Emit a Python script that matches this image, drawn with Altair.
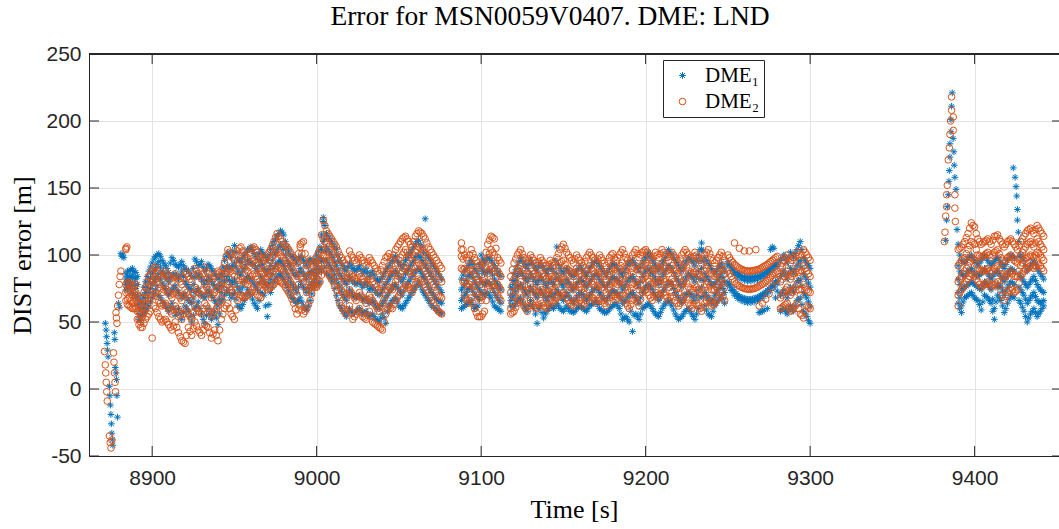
import altair as alt
import pandas as pd

TITLE = "Error for MSN0059V0407. DME: LND"
SERIES = ["DME\u2081", "DME\u2082"]
COLORS = ["#0072BD", "#D95319"]
X_TICKS = [8900, 9000, 9100, 9200, 9300, 9400]
Y_TICKS = [-50, 0, 50, 100, 150, 200, 250]
X_DOMAIN = [8861.6, 9451.3]
Y_DOMAIN = [-50, 250]

# ---- DME1 (blue asterisks): individual points of the initial dip ----
DIP_T1 = [8871.5, 8872.0, 8872.3, 8872.6, 8872.9, 8873.2, 8874.0, 8874.3, 8874.6, 8874.9,
          8875.2, 8875.5, 8875.8, 8876.1, 8877.0, 8877.3, 8877.6, 8878.0, 8878.3, 8878.6,
          8878.9, 8879.5, 8880.3, 8881.0, 8881.6, 8882.2, 8882.8]
DIP_V1 = [49, 44, 39, 34, 29, 24, 2, -5, -12, -19, -26, -33, -38, -42, 42, 37, 16, 12, 7, -5,
          -21, 64, 61, 101, 99, 100, 98]
# ---- DME2 (orange circles): individual points of the initial dip ----
DIP_T2 = [8871.0, 8871.5, 8871.8, 8872.1, 8872.4, 8872.7, 8874.0, 8874.5, 8875.0, 8875.5,
          8876.5, 8876.8, 8877.1, 8877.4, 8877.7, 8878.0, 8878.3, 8878.6, 8879.0, 8879.5,
          8880.0, 8880.5, 8881.0, 8884.0, 8884.6]
DIP_V2 = [28, 18, 12, 5, -2, -9, -35, -40, -44, -38, 27, 20, 12, 5, -2, 57, 53, 49, 62, 70,
          78, 84, 88, 104, 106]

# ---- time [s] -> errors [m] at that epoch, first block (even seconds) ----
DME1_A = {
    8884: [86, 82, 78, 74], 8886: [88, 84, 80, 76], 8888: [90, 85, 79, 72], 8890: [87, 82, 75, 68],
    8892: [60, 56, 52, 66], 8894: [70, 64, 58, 54], 8896: [80, 72, 64, 58], 8898: [88, 80, 72, 62],
    8900: [94, 86, 78, 68], 8902: [99, 90, 82, 74], 8904: [101, 95, 86, 70], 8906: [96, 88, 79, 66],
    8908: [92, 84, 75, 62], 8910: [87, 80, 70, 58], 8912: [98, 84, 74, 64], 8914: [93, 86, 77, 55],
    8916: [91, 82, 72, 60], 8918: [95, 88, 68, 52], 8920: [90, 80, 71, 62], 8922: [88, 76, 66, 58],
    8924: [84, 74, 64, 50], 8926: [97, 83, 72, 60], 8928: [92, 86, 75, 65], 8930: [95, 82, 70, 56],
    8932: [88, 78, 68, 49], 8934: [93, 84, 74, 60], 8936: [90, 80, 70, 52], 8938: [86, 77, 66, 58],
    8940: [82, 74, 62, 48], 8942: [86, 80, 72, 65], 8944: [96, 88, 80, 70], 8946: [102, 92, 84, 74],
    8948: [98, 90, 78, 68], 8950: [107, 94, 82, 72], 8952: [97, 88, 76, 62], 8954: [95, 85, 72, 60],
    8956: [100, 90, 80, 66], 8958: [104, 96, 84, 74], 8960: [106, 94, 82, 70], 8962: [101, 92, 78, 64],
    8964: [97, 88, 74, 60], 8966: [104, 96, 84, 72], 8968: [100, 90, 80, 70], 8970: [96, 86, 76, 54],
    8972: [104, 92, 82, 72], 8974: [110, 100, 90, 80], 8976: [114, 104, 94, 84], 8978: [118, 108, 96, 86],
    8980: [115, 104, 92, 82], 8982: [106, 96, 86, 76], 8984: [100, 92, 80, 70], 8986: [98, 86, 76, 67],
    8988: [94, 84, 72, 64], 8990: [99, 90, 80, 68], 8992: [96, 86, 76, 62], 8994: [92, 82, 72, 59],
    8996: [97, 88, 78, 66], 8998: [94, 86, 80, 76], 9000: [100, 92, 84, 78], 9002: [106, 98, 90, 80],
    9004: [128, 125, 110, 96], 9006: [116, 106, 96, 86], 9008: [112, 102, 92, 84], 9010: [108, 98, 88, 80],
    9012: [104, 92, 82, 70], 9014: [96, 86, 76, 62], 9016: [92, 82, 70, 58], 9018: [88, 78, 66, 54],
    9020: [94, 84, 74, 60], 9022: [90, 80, 70, 56], 9024: [88, 78, 68, 58], 9026: [92, 80, 70, 60],
    9028: [86, 76, 66, 56], 9030: [90, 80, 68, 58], 9032: [84, 74, 64, 54], 9034: [88, 76, 66, 56],
    9036: [82, 72, 62, 52], 9038: [80, 70, 60, 50], 9040: [84, 74, 64, 56], 9042: [88, 78, 68, 49],
    9044: [92, 82, 72, 62], 9046: [96, 86, 76, 66], 9048: [99, 88, 78, 68], 9050: [94, 84, 74, 62],
    9052: [90, 80, 70, 60], 9054: [96, 86, 76, 64], 9056: [100, 90, 80, 68], 9058: [104, 94, 84, 72],
    9060: [108, 98, 88, 76], 9062: [111, 100, 90, 80], 9064: [106, 96, 86, 74], 9066: [127, 92, 82, 70],
    9068: [98, 88, 76, 66], 9070: [94, 84, 72, 62], 9072: [90, 80, 68, 60], 9074: [86, 76, 66, 58],
    9076: [82, 72, 64, 56],
}
DME2_A = {
    8884: [105, 78, 72, 66], 8886: [80, 74, 68, 62], 8888: [76, 70, 64, 60], 8890: [78, 72, 66, 60],
    8892: [58, 52, 48, 64], 8894: [68, 60, 54, 46], 8896: [76, 68, 60, 52], 8898: [84, 76, 66, 56],
    8900: [88, 80, 70, 38], 8902: [91, 82, 72, 60], 8904: [86, 78, 66, 54], 8906: [82, 72, 62, 50],
    8908: [88, 76, 64, 52], 8910: [84, 72, 60, 48], 8912: [80, 68, 56, 44], 8914: [86, 74, 62, 50],
    8916: [82, 70, 58, 42], 8918: [78, 66, 52, 36], 8920: [88, 74, 60, 34], 8922: [84, 70, 56, 46],
    8924: [80, 66, 52, 40], 8926: [90, 76, 62, 50], 8928: [86, 72, 58, 44], 8930: [82, 70, 56, 40],
    8932: [91, 78, 64, 48], 8934: [86, 74, 60, 46], 8936: [80, 68, 54, 38], 8938: [84, 72, 58, 44],
    8940: [88, 76, 62, 36], 8942: [86, 78, 68, 52], 8944: [94, 84, 74, 60], 8946: [104, 90, 78, 64],
    8948: [100, 88, 74, 56], 8950: [96, 84, 70, 52], 8952: [103, 92, 78, 66], 8954: [106, 96, 84, 70],
    8956: [100, 90, 80, 68], 8958: [98, 88, 78, 70], 8960: [104, 94, 84, 72], 8962: [106, 96, 86, 76],
    8964: [102, 92, 82, 70], 8966: [98, 88, 78, 68], 8968: [96, 86, 80, 78], 8970: [100, 92, 84, 74],
    8972: [104, 96, 86, 76], 8974: [110, 100, 88, 78], 8976: [116, 104, 92, 82], 8978: [112, 100, 90, 80],
    8980: [108, 98, 88, 78], 8982: [106, 94, 84, 74], 8984: [102, 92, 80, 70], 8986: [98, 88, 76, 64],
    8988: [94, 84, 70, 56], 8990: [108, 106, 86, 62], 8992: [110, 96, 80, 56], 8994: [92, 82, 72, 60],
    8996: [96, 86, 76, 66], 8998: [92, 84, 78, 76], 9000: [98, 90, 82, 76], 9002: [104, 96, 88, 80],
    9004: [126, 112, 100, 90], 9006: [118, 108, 98, 88], 9008: [114, 104, 94, 84], 9010: [110, 100, 90, 80],
    9012: [106, 96, 84, 74], 9014: [100, 88, 76, 64], 9016: [96, 84, 72, 60], 9018: [92, 80, 68, 56],
    9020: [103, 86, 74, 62], 9022: [98, 84, 70, 52], 9024: [94, 80, 66, 56], 9026: [100, 86, 72, 60],
    9028: [96, 82, 68, 54], 9030: [92, 78, 64, 52], 9032: [98, 84, 70, 58], 9034: [94, 80, 66, 50],
    9036: [90, 76, 62, 48], 9038: [86, 72, 58, 46], 9040: [92, 78, 64, 44], 9042: [98, 84, 70, 56],
    9044: [101, 90, 76, 62], 9046: [96, 86, 74, 60], 9048: [104, 92, 80, 66], 9050: [108, 96, 84, 70],
    9052: [112, 100, 88, 74], 9054: [114, 104, 92, 78], 9056: [110, 100, 88, 76], 9058: [106, 96, 84, 72],
    9060: [114, 102, 90, 78], 9062: [118, 106, 94, 82], 9064: [116, 104, 92, 80], 9066: [112, 100, 88, 76],
    9068: [106, 96, 84, 72], 9070: [102, 92, 80, 66], 9072: [98, 88, 76, 62], 9074: [94, 84, 70, 58],
    9076: [90, 80, 68, 56],
}
# ---- first block, odd seconds ----
DME1_A_ODD = {
    8885: [88, 84, 80, 76], 8887: [89, 83, 77, 73], 8889: [88, 83, 77, 70], 8891: [84, 78, 70, 63],
    8893: [66, 60, 55, 51], 8895: [76, 68, 61, 56], 8897: [84, 76, 68, 60], 8899: [91, 83, 75, 65],
    8901: [97, 88, 80, 71], 8903: [100, 93, 84, 77], 8905: [99, 91, 82, 68], 8907: [94, 86, 77, 64],
    8909: [90, 82, 72, 60], 8911: [94, 83, 72, 61], 8913: [96, 85, 76, 60], 8915: [92, 84, 74, 57],
    8917: [93, 85, 70, 56], 8919: [92, 84, 70, 57], 8921: [89, 78, 68, 60], 8923: [86, 75, 65, 54],
    8925: [90, 78, 68, 55], 8927: [95, 85, 73, 62], 8929: [93, 84, 72, 60], 8931: [91, 80, 69, 52],
    8933: [90, 81, 71, 55], 8935: [92, 82, 72, 56], 8937: [88, 78, 68, 55], 8939: [84, 75, 64, 53],
    8941: [84, 77, 67, 56], 8943: [91, 84, 76, 67], 8945: [99, 90, 82, 72], 8947: [100, 91, 81, 71],
    8949: [103, 92, 80, 70], 8951: [102, 91, 79, 67], 8953: [96, 86, 74, 61], 8955: [98, 88, 76, 63],
    8957: [102, 93, 82, 70], 8959: [105, 95, 83, 72], 8961: [104, 93, 80, 67], 8963: [99, 90, 76, 62],
    8965: [101, 92, 79, 66], 8967: [102, 93, 82, 71], 8969: [98, 88, 78, 62], 8971: [100, 89, 79, 63],
    8973: [107, 96, 86, 76], 8975: [112, 102, 92, 82], 8977: [116, 106, 95, 85], 8979: [117, 106, 94, 84],
    8981: [110, 100, 89, 79], 8983: [103, 94, 83, 73], 8985: [99, 89, 78, 68], 8987: [96, 85, 74, 65],
    8989: [97, 87, 76, 66], 8991: [98, 88, 78, 65], 8993: [94, 84, 74, 60], 8995: [95, 85, 75, 62],
    8997: [96, 87, 79, 71], 8999: [97, 89, 82, 77], 9001: [103, 95, 87, 79], 9003: [115, 104, 95, 88],
    9005: [122, 112, 103, 91], 9007: [114, 104, 94, 85], 9009: [110, 100, 90, 82], 9011: [106, 95, 85, 75],
    9013: [100, 89, 79, 66], 9015: [94, 84, 73, 60], 9017: [90, 80, 68, 56], 9019: [91, 81, 70, 57],
    9021: [92, 82, 72, 58], 9023: [89, 79, 69, 57], 9025: [90, 79, 69, 59], 9027: [89, 78, 68, 58],
    9029: [88, 78, 67, 57], 9031: [87, 77, 66, 56], 9033: [86, 75, 65, 55], 9035: [85, 74, 64, 54],
    9037: [81, 71, 61, 51], 9039: [82, 72, 62, 53], 9041: [86, 76, 66, 53], 9043: [90, 80, 70, 58],
    9045: [94, 84, 74, 64], 9047: [98, 87, 77, 67], 9049: [96, 86, 76, 65], 9051: [92, 82, 72, 61],
    9053: [93, 83, 73, 62], 9055: [98, 88, 78, 66], 9057: [102, 92, 82, 70], 9059: [106, 96, 86, 74],
    9061: [110, 99, 89, 78], 9063: [108, 98, 88, 77], 9065: [102, 94, 84, 72], 9067: [100, 90, 79, 68],
    9069: [96, 86, 74, 64], 9071: [92, 82, 70, 61], 9073: [88, 78, 67, 59], 9075: [84, 74, 65, 57],
}
DME2_A_ODD = {
    8885: [79, 73, 67, 63], 8887: [78, 72, 66, 61], 8889: [77, 71, 65, 60], 8891: [70, 64, 58, 52],
    8893: [63, 56, 50, 46], 8895: [72, 64, 57, 49], 8897: [80, 72, 63, 54], 8899: [86, 78, 68, 58],
    8901: [90, 81, 71, 62], 8903: [88, 80, 69, 57], 8905: [84, 75, 64, 52], 8907: [85, 74, 63, 51],
    8909: [86, 74, 62, 50], 8911: [82, 70, 58, 46], 8913: [83, 71, 59, 47], 8915: [84, 72, 60, 46],
    8917: [80, 68, 55, 39], 8919: [83, 70, 56, 35], 8921: [86, 72, 58, 40], 8923: [82, 68, 54, 43],
    8925: [85, 71, 57, 45], 8927: [88, 74, 60, 47], 8929: [84, 71, 57, 42], 8931: [86, 74, 60, 44],
    8933: [88, 76, 62, 47], 8935: [83, 71, 57, 42], 8937: [82, 70, 56, 41], 8939: [86, 74, 60, 40],
    8941: [87, 77, 65, 44], 8943: [90, 81, 71, 56], 8945: [99, 87, 76, 62], 8947: [102, 89, 76, 60],
    8949: [98, 86, 72, 54], 8951: [100, 88, 74, 59], 8953: [105, 94, 81, 68], 8955: [103, 93, 82, 69],
    8957: [99, 89, 79, 69], 8959: [101, 91, 81, 71], 8961: [105, 95, 85, 74], 8963: [104, 94, 84, 73],
    8965: [100, 90, 80, 69], 8967: [97, 87, 79, 73], 8969: [98, 89, 82, 76], 8971: [102, 94, 85, 75],
    8973: [107, 98, 87, 77], 8975: [113, 102, 90, 80], 8977: [114, 102, 91, 81], 8979: [110, 99, 89, 79],
    8981: [107, 96, 86, 76], 8983: [104, 93, 82, 72], 8985: [100, 90, 78, 67], 8987: [96, 86, 73, 60],
    8989: [101, 95, 78, 59], 8991: [109, 101, 83, 59], 8993: [101, 89, 76, 58], 8995: [94, 84, 74, 63],
    8997: [94, 85, 77, 71], 8999: [95, 87, 80, 76], 9001: [101, 93, 85, 78], 9003: [115, 104, 94, 85],
    9005: [122, 110, 99, 89], 9007: [116, 106, 96, 86], 9009: [112, 102, 92, 82], 9011: [108, 98, 87, 77],
    9013: [103, 92, 80, 69], 9015: [98, 86, 74, 62], 9017: [94, 82, 70, 58], 9019: [97, 83, 71, 59],
    9021: [100, 85, 72, 57], 9023: [96, 82, 68, 54], 9025: [97, 83, 69, 58], 9027: [98, 84, 70, 57],
    9029: [94, 80, 66, 53], 9031: [95, 81, 67, 55], 9033: [96, 82, 68, 54], 9035: [92, 78, 64, 49],
    9037: [88, 74, 60, 47], 9039: [89, 75, 61, 45], 9041: [95, 81, 67, 50], 9043: [99, 87, 73, 59],
    9045: [98, 88, 75, 61], 9047: [100, 89, 77, 63], 9049: [106, 94, 82, 68], 9051: [110, 98, 86, 72],
    9053: [113, 102, 90, 76], 9055: [112, 102, 90, 77], 9057: [108, 98, 86, 74], 9059: [110, 99, 87, 75],
    9061: [116, 104, 92, 80], 9063: [117, 105, 93, 81], 9065: [114, 102, 90, 78], 9067: [109, 98, 86, 74],
    9069: [104, 94, 82, 69], 9071: [100, 90, 78, 64], 9073: [96, 86, 73, 60], 9075: [92, 82, 69, 57],
}

# ---- second block (even seconds) ----
DME1_B = {
    9088: [82, 74, 66, 60], 9090: [88, 78, 70, 62], 9092: [92, 84, 74, 64], 9094: [96, 86, 76, 66],
    9096: [90, 80, 70, 60], 9098: [86, 76, 68, 62], 9100: [100, 90, 80, 72], 9102: [94, 86, 78, 70],
    9104: [98, 88, 80, 72], 9106: [96, 88, 78, 68], 9108: [92, 82, 72, 62], 9110: [88, 78, 68, 60],
    9112: [84, 74, 64, 58],
    9118: [76, 70, 66, 62], 9120: [86, 78, 70, 62], 9122: [92, 84, 76, 66], 9124: [98, 88, 78, 68],
    9126: [94, 84, 74, 62], 9128: [90, 80, 70, 58], 9130: [96, 86, 76, 66], 9132: [92, 82, 72, 60],
    9134: [88, 78, 68, 49], 9136: [94, 84, 74, 62], 9138: [90, 80, 70, 53], 9140: [86, 76, 66, 58],
    9142: [92, 82, 72, 62], 9144: [88, 78, 68, 60], 9146: [106, 86, 74, 64], 9148: [90, 80, 70, 60],
    9150: [86, 76, 66, 58], 9152: [90, 82, 72, 62], 9154: [86, 78, 68, 58], 9156: [84, 74, 64, 57],
    9158: [88, 78, 68, 60], 9160: [92, 82, 72, 62], 9162: [88, 80, 70, 60], 9164: [84, 76, 66, 58],
    9166: [90, 80, 70, 62], 9168: [94, 84, 74, 64], 9170: [96, 86, 76, 66], 9172: [92, 82, 72, 60],
    9174: [88, 78, 68, 58], 9176: [84, 76, 66, 57], 9178: [90, 80, 70, 60], 9180: [94, 84, 74, 62],
    9182: [92, 82, 72, 64], 9184: [88, 80, 70, 60], 9186: [84, 74, 64, 52], 9188: [90, 78, 66, 54],
    9190: [94, 82, 70, 50], 9192: [96, 84, 72, 43], 9194: [92, 80, 68, 56], 9196: [88, 76, 64, 52],
    9198: [94, 84, 72, 60], 9200: [98, 88, 76, 62], 9202: [102, 90, 78, 64], 9204: [96, 86, 74, 60],
    9206: [92, 82, 70, 56], 9208: [88, 78, 66, 54], 9210: [94, 84, 72, 60], 9212: [98, 88, 76, 64],
    9214: [104, 92, 80, 66], 9216: [100, 90, 78, 62], 9218: [96, 84, 72, 56], 9220: [92, 80, 68, 52],
    9222: [88, 76, 64, 54], 9224: [94, 82, 70, 58], 9226: [98, 86, 72, 60], 9228: [96, 84, 70, 56],
    9230: [92, 80, 66, 52], 9232: [100, 88, 74, 60], 9234: [109, 104, 90, 76], 9236: [98, 86, 72, 62],
    9238: [94, 82, 68, 56], 9240: [90, 78, 64, 54], 9242: [86, 78, 70, 62], 9244: [90, 82, 74, 66],
    9246: [94, 86, 78, 70], 9248: [88, 80, 72, 64],
    9282: [96, 84, 70, 58], 9284: [100, 88, 74, 60], 9286: [94, 82, 68, 56], 9288: [102, 90, 76, 62],
    9290: [98, 86, 72, 58], 9292: [104, 92, 80, 66], 9294: [110, 96, 82, 68], 9296: [98, 86, 72, 58],
    9298: [94, 82, 68, 54], 9300: [90, 76, 62, 49],
}
DME2_B = {
    9088: [109, 104, 99, 90], 9090: [100, 90, 80, 70], 9092: [96, 86, 76, 64], 9094: [104, 92, 80, 68],
    9096: [98, 86, 74, 60], 9098: [94, 82, 70, 54], 9100: [90, 78, 66, 54], 9102: [96, 84, 72, 58],
    9104: [108, 98, 86, 74], 9106: [114, 104, 92, 80], 9108: [112, 100, 88, 76], 9110: [98, 88, 78, 70],
    9112: [94, 84, 74, 66],
    9118: [84, 72, 60, 56], 9120: [94, 82, 70, 58], 9122: [100, 88, 76, 64], 9124: [104, 92, 80, 68],
    9126: [98, 86, 74, 62], 9128: [94, 82, 70, 58], 9130: [100, 90, 78, 66], 9132: [96, 86, 74, 62],
    9134: [92, 82, 70, 60], 9136: [98, 88, 76, 66], 9138: [94, 84, 72, 62], 9140: [90, 80, 70, 60],
    9142: [96, 86, 76, 66], 9144: [92, 82, 72, 64], 9146: [98, 88, 78, 68], 9148: [104, 94, 82, 70],
    9150: [108, 96, 84, 72], 9152: [102, 90, 80, 68], 9154: [98, 88, 76, 64], 9156: [94, 84, 74, 62],
    9158: [100, 90, 80, 68], 9160: [96, 86, 76, 66], 9162: [92, 82, 72, 62], 9164: [98, 88, 78, 66],
    9166: [102, 92, 82, 70], 9168: [98, 88, 78, 68], 9170: [94, 84, 74, 64], 9172: [100, 90, 80, 68],
    9174: [96, 86, 76, 66], 9176: [92, 82, 72, 62], 9178: [98, 88, 78, 68], 9180: [101, 92, 82, 72],
    9182: [96, 86, 76, 66], 9184: [100, 90, 80, 70], 9186: [104, 94, 82, 70], 9188: [98, 88, 76, 64],
    9190: [94, 84, 72, 60], 9192: [100, 90, 78, 66], 9194: [104, 92, 80, 68], 9196: [98, 86, 74, 62],
    9198: [102, 92, 82, 72], 9200: [104, 94, 84, 74], 9202: [100, 90, 80, 70], 9204: [96, 86, 76, 66],
    9206: [102, 92, 82, 72], 9208: [98, 88, 78, 68], 9210: [104, 94, 84, 74], 9212: [100, 90, 80, 70],
    9214: [96, 86, 76, 66], 9216: [102, 92, 82, 72], 9218: [98, 88, 78, 66], 9220: [94, 84, 72, 62],
    9222: [100, 90, 78, 66], 9224: [104, 94, 82, 70], 9226: [100, 88, 76, 64], 9228: [96, 84, 72, 60],
    9230: [102, 90, 78, 66], 9232: [98, 86, 74, 62], 9234: [94, 82, 70, 58], 9236: [100, 88, 76, 64],
    9238: [104, 92, 80, 68], 9240: [98, 86, 74, 62], 9242: [94, 84, 74, 64], 9244: [98, 88, 78, 68],
    9246: [102, 92, 82, 72], 9248: [96, 86, 76, 66],
    9282: [92, 80, 68, 60], 9284: [96, 84, 72, 62], 9286: [100, 88, 76, 64], 9288: [94, 82, 70, 58],
    9290: [98, 86, 74, 60], 9292: [102, 90, 78, 64], 9294: [96, 84, 70, 56], 9296: [104, 92, 78, 53],
    9298: [100, 88, 74, 62], 9300: [96, 84, 72, 60],
}
# ---- second block, odd seconds ----
DME1_B_ODD = {
    9089: [85, 76, 68, 61], 9091: [90, 81, 72, 63], 9093: [94, 85, 75, 65], 9095: [93, 83, 73, 63],
    9097: [88, 78, 69, 61], 9099: [93, 83, 74, 67], 9101: [97, 88, 79, 71], 9103: [96, 87, 79, 71],
    9105: [97, 88, 79, 70], 9107: [94, 85, 75, 65], 9109: [90, 80, 70, 61], 9111: [86, 76, 66, 59],
    9119: [81, 74, 68, 62], 9121: [89, 81, 73, 64], 9123: [95, 86, 77, 67], 9125: [96, 86, 76, 65],
    9127: [92, 82, 72, 60], 9129: [93, 83, 73, 62], 9131: [94, 84, 74, 63], 9133: [90, 80, 70, 56],
    9135: [91, 81, 71, 60], 9137: [92, 82, 72, 57], 9139: [88, 78, 68, 56], 9141: [89, 79, 69, 60],
    9143: [90, 80, 70, 61], 9145: [96, 82, 71, 62], 9147: [93, 83, 72, 62], 9149: [88, 78, 68, 59],
    9151: [88, 79, 69, 60], 9153: [88, 80, 70, 60], 9155: [85, 76, 66, 58], 9157: [86, 76, 66, 58],
    9159: [90, 80, 70, 61], 9161: [90, 81, 71, 61], 9163: [86, 78, 68, 59], 9165: [87, 78, 68, 60],
    9167: [92, 82, 72, 63], 9169: [95, 85, 75, 65], 9171: [94, 84, 74, 63], 9173: [90, 80, 70, 59],
    9175: [86, 77, 67, 57], 9177: [87, 78, 68, 58], 9179: [92, 82, 72, 61], 9181: [93, 83, 73, 63],
    9183: [90, 81, 71, 62], 9185: [86, 77, 67, 56], 9187: [87, 76, 65, 53], 9189: [92, 80, 68, 52],
    9191: [95, 83, 71, 58], 9193: [94, 82, 70, 55], 9195: [90, 78, 66, 54], 9197: [91, 80, 68, 56],
    9199: [96, 86, 74, 61], 9201: [100, 89, 77, 63], 9203: [99, 88, 76, 62], 9205: [94, 84, 72, 58],
    9207: [90, 80, 68, 55], 9209: [91, 81, 69, 57], 9211: [96, 86, 74, 62], 9213: [101, 90, 78, 65],
    9215: [102, 91, 79, 64], 9217: [98, 87, 75, 59], 9219: [94, 82, 70, 54], 9221: [90, 78, 66, 53],
    9223: [91, 79, 67, 56], 9225: [96, 84, 71, 59], 9227: [97, 85, 71, 58], 9229: [94, 82, 68, 54],
    9231: [96, 84, 70, 56], 9233: [104, 96, 82, 68], 9235: [103, 95, 81, 69], 9237: [96, 84, 70, 59],
    9239: [92, 80, 66, 55], 9241: [88, 78, 67, 58], 9243: [88, 80, 72, 64], 9245: [92, 84, 76, 68],
    9247: [91, 83, 75, 67],
    9283: [98, 86, 72, 59], 9285: [97, 85, 71, 58], 9287: [98, 86, 72, 59], 9289: [100, 88, 74, 60],
    9291: [101, 89, 76, 62], 9293: [107, 94, 81, 67], 9295: [104, 91, 77, 63], 9297: [96, 84, 70, 56],
    9299: [92, 79, 65, 51],
}
DME2_B_ODD = {
    9089: [104, 97, 89, 80], 9091: [98, 88, 78, 67], 9093: [100, 89, 78, 66], 9095: [101, 89, 77, 64],
    9097: [96, 84, 72, 57], 9099: [92, 80, 68, 54], 9101: [93, 81, 69, 56], 9103: [102, 91, 79, 66],
    9105: [111, 101, 89, 77], 9107: [113, 102, 90, 78], 9109: [105, 94, 83, 73], 9111: [96, 86, 76, 68],
    9119: [89, 77, 65, 57], 9121: [97, 85, 73, 61], 9123: [102, 90, 78, 66], 9125: [101, 89, 77, 65],
    9127: [96, 84, 72, 60], 9129: [97, 86, 74, 62], 9131: [98, 88, 76, 64], 9133: [94, 84, 72, 61],
    9135: [95, 85, 73, 63], 9137: [96, 86, 74, 64], 9139: [92, 82, 71, 61], 9141: [93, 83, 73, 63],
    9143: [94, 84, 74, 65], 9145: [95, 85, 75, 66], 9147: [101, 91, 80, 69], 9149: [106, 95, 83, 71],
    9151: [105, 93, 82, 70], 9153: [100, 89, 78, 66], 9155: [96, 86, 75, 63], 9157: [97, 87, 77, 65],
    9159: [98, 88, 78, 67], 9161: [94, 84, 74, 64], 9163: [95, 85, 75, 64], 9165: [100, 90, 80, 68],
    9167: [100, 90, 80, 69], 9169: [96, 86, 76, 66], 9171: [97, 87, 77, 66], 9173: [98, 88, 78, 67],
    9175: [94, 84, 74, 64], 9177: [95, 85, 75, 65], 9179: [100, 90, 80, 70], 9181: [98, 89, 79, 69],
    9183: [98, 88, 78, 68], 9185: [102, 92, 81, 70], 9187: [101, 91, 79, 67], 9189: [96, 86, 74, 62],
    9191: [97, 87, 75, 63], 9193: [102, 91, 79, 67], 9195: [101, 89, 77, 65], 9197: [100, 89, 78, 67],
    9199: [103, 93, 83, 73], 9201: [102, 92, 82, 72], 9203: [98, 88, 78, 68], 9205: [99, 89, 79, 69],
    9207: [100, 90, 80, 70], 9209: [101, 91, 81, 71], 9211: [102, 92, 82, 72], 9213: [98, 88, 78, 68],
    9215: [99, 89, 79, 69], 9217: [100, 90, 80, 69], 9219: [96, 86, 75, 64], 9221: [97, 87, 75, 64],
    9223: [102, 92, 80, 68], 9225: [102, 91, 79, 67], 9227: [98, 86, 74, 62], 9229: [99, 87, 75, 63],
    9231: [100, 88, 76, 64], 9233: [96, 84, 72, 60], 9235: [97, 85, 73, 61], 9237: [102, 90, 78, 66],
    9239: [101, 89, 77, 65], 9241: [96, 85, 74, 63], 9243: [96, 86, 76, 66], 9245: [100, 90, 80, 70],
    9247: [99, 89, 79, 69],
    9283: [94, 82, 70, 61], 9285: [98, 86, 74, 63], 9287: [97, 85, 73, 61], 9289: [96, 84, 72, 59],
    9291: [100, 88, 76, 62], 9293: [99, 87, 74, 60], 9295: [100, 88, 74, 55], 9297: [102, 90, 76, 58],
    9299: [98, 86, 73, 61],
}

# ---- arc-shaped tracks, 9250-9280 s (one value per second) ----
ARC_T = [9250, 9251, 9252, 9253, 9254, 9255, 9256, 9257, 9258, 9259, 9260, 9261, 9262, 9263, 9264, 9265,
         9266, 9267, 9268, 9269, 9270, 9271, 9272, 9273, 9274, 9275, 9276, 9277, 9278, 9279, 9280]
ARC1_UP = [95, 93, 91, 89.5, 88, 87, 86, 85.2, 84.5, 84, 83.5, 83.2, 83, 83, 83, 83.2, 83.5, 83.8, 84,
           84.5, 85, 85.8, 86.5, 87.2, 88, 89, 90, 91, 92, 93, 94]
ARC1_LO = [80, 78, 76, 74.2, 72.5, 71.2, 70, 69.2, 68.5, 68, 67.5, 67.2, 67, 67, 67, 67.2, 67.5, 68, 68.5,
           69.2, 70, 70.8, 71.5, 72.5, 73.5, 74.8, 76, 77.2, 78.5, 79.8, 81]
ARC2_UP = [100, 98, 96, 94.5, 93, 92, 91, 90.2, 89.5, 89, 88.5, 88.2, 88, 88, 88, 88.2, 88.5, 88.8, 89,
           89.5, 90, 90.8, 91.5, 92.2, 93, 94, 95, 96, 97, 98, 99]
ARC2_LO = [88, 86, 84, 82, 80, 78.8, 77.5, 76.8, 76, 75.5, 75, 74.8, 74.5, 74.5, 74.5, 74.8, 75, 75.5, 76,
           76.8, 77.5, 78.2, 79, 80, 81, 82.2, 83.5, 84.8, 86, 87, 88]
# lower edges of the two blue arcs (every 2 s)
ARC_T2 = [9250, 9252, 9254, 9256, 9258, 9260, 9262, 9264, 9266, 9268, 9270, 9272, 9274, 9276, 9278, 9280]
ARC1_UP_EDGE = [92.5, 88.5, 85.5, 83.5, 82, 81, 80.5, 80.5, 81, 81.5, 82.5, 84, 85.5, 87.5, 89.5, 91.5]
ARC1_LO_EDGE = [77.5, 73.5, 70, 67.5, 66, 65, 64.5, 64.5, 65, 66, 67.5, 69, 71, 73.5, 76, 78.5]
EXTRA_T1 = [9269, 9270, 9271, 9272, 9274, 9276, 9277, 9278, 9279, 9280]
EXTRA_V1 = [57, 57.5, 58, 59, 60, 104, 106, 105, 68, 73]
EXTRA_T2 = [9254, 9257, 9260, 9263, 9267, 9269, 9271, 9273, 9275, 9277, 9279, 9281, 9283]
EXTRA_V2 = [109, 105, 103, 103, 104, 62, 64, 67, 71, 76, 81, 86, 91]

# ---- last block: two spikes and the band after 9388 s ----
SPIKE_T1 = [9382.4, 9383.0, 9383.4, 9384.0, 9384.4, 9384.6, 9385.0, 9385.0, 9385.6, 9385.6, 9386.0,
            9386.4, 9387.0, 9387.4, 9387.6, 9388.0, 9388.7, 9389.3,
            9423.5, 9424.6, 9425.2, 9425.6, 9426.0, 9426.0, 9426.6, 9426.8]
SPIKE_V1 = [111, 126, 136, 145, 155, 163, 173, 183, 192, 201, 211, 221, 187, 177, 167, 158, 149, 119,
            165, 158, 151, 144, 134, 126, 117, 110]
SPIKE_T2 = [9381.6, 9382.0, 9382.4, 9383.0, 9383.0, 9383.4, 9384.0, 9384.6, 9385.0, 9385.4, 9386.0,
            9386.0, 9387.0, 9387.0, 9388.0, 9388.0, 9388.3]
SPIKE_V2 = [110, 117, 129, 136, 145, 152, 171, 180, 190, 200, 208, 218, 203, 193, 145, 135, 125]
DME1_C = {
    9390: [108, 92, 82, 72, 64], 9392: [96, 86, 74, 62, 57], 9394: [94, 84, 76, 68], 9396: [98, 88, 78, 70],
    9398: [100, 90, 80, 72], 9400: [96, 86, 78, 68], 9402: [92, 84, 76, 66], 9404: [96, 86, 74, 59],
    9406: [100, 90, 80, 70], 9408: [96, 86, 78, 68], 9410: [92, 82, 74, 64], 9412: [96, 86, 60, 52],
    9414: [98, 88, 78, 70], 9416: [94, 84, 76, 66], 9418: [90, 80, 70, 57], 9420: [96, 86, 76, 64],
    9422: [100, 90, 80, 70], 9424: [98, 88, 78, 68], 9428: [100, 84, 74, 64], 9430: [96, 80, 70, 58],
    9432: [88, 76, 64, 50], 9434: [92, 80, 68, 56], 9436: [96, 84, 72, 60], 9438: [90, 78, 66, 54],
    9440: [86, 74, 64, 58], 9442: [82, 72, 66, 62],
    9391: [100, 88, 78, 68, 60], 9393: [95, 85, 75, 65], 9395: [96, 86, 77, 69], 9397: [99, 89, 79, 71],
    9399: [98, 88, 79, 70], 9401: [94, 85, 77, 67], 9403: [94, 85, 75, 63], 9405: [98, 88, 77, 65],
    9407: [98, 88, 79, 69], 9409: [94, 84, 76, 66], 9411: [94, 84, 67, 58], 9413: [97, 87, 76, 65],
    9415: [96, 86, 77, 68], 9417: [92, 82, 73, 62], 9419: [93, 83, 73, 60], 9421: [98, 88, 78, 67],
    9423: [99, 89, 79, 69], 9427: [99, 86, 76, 66], 9429: [98, 82, 72, 61], 9431: [92, 78, 67, 54],
    9433: [90, 78, 66, 53], 9435: [94, 82, 70, 58], 9437: [93, 81, 69, 57], 9439: [88, 76, 65, 56],
    9441: [84, 73, 65, 60],
}
DME2_C = {
    9390: [104, 92, 80, 70, 62], 9392: [106, 96, 84, 74], 9394: [110, 98, 88, 78], 9396: [116, 104, 92, 82],
    9398: [124, 110, 98, 86], 9400: [121, 108, 96, 84], 9402: [112, 100, 90, 80], 9404: [108, 98, 88, 76],
    9406: [110, 100, 88, 78], 9408: [112, 102, 90, 80], 9410: [108, 98, 86, 76], 9412: [114, 102, 90, 78],
    9414: [115, 104, 92, 80], 9416: [110, 98, 86, 74], 9418: [106, 94, 82, 66], 9420: [110, 98, 86, 72],
    9422: [112, 100, 88, 76], 9424: [108, 96, 84, 72], 9426: [104, 94, 84, 74], 9428: [110, 100, 92, 84],
    9430: [114, 104, 96, 88], 9432: [118, 108, 98, 90], 9434: [120, 110, 100, 92], 9436: [116, 106, 98, 90],
    9438: [122, 112, 102, 94], 9440: [118, 108, 100, 92], 9442: [114, 104, 96, 88],
    9391: [105, 94, 82, 72], 9393: [108, 97, 86, 76], 9395: [113, 101, 90, 80], 9397: [120, 107, 95, 84],
    9399: [122, 109, 97, 85], 9401: [116, 104, 93, 82], 9403: [110, 99, 89, 78], 9405: [109, 99, 88, 77],
    9407: [111, 101, 89, 79], 9409: [110, 100, 88, 78], 9411: [111, 100, 88, 77], 9413: [114, 103, 91, 79],
    9415: [112, 101, 89, 77], 9417: [108, 96, 84, 70], 9419: [108, 96, 84, 69], 9421: [111, 99, 87, 74],
    9423: [110, 98, 86, 74], 9425: [106, 95, 84, 73], 9427: [107, 97, 88, 79], 9429: [112, 102, 94, 86],
    9431: [116, 106, 97, 89], 9433: [119, 109, 99, 91], 9435: [118, 108, 99, 91], 9437: [119, 109, 100, 92],
    9439: [120, 110, 101, 93], 9441: [116, 106, 98, 90],
}

# ---------------- build the long table ----------------
rows = []


def add_points(ts, vs, name):
    for t, v in zip(ts, vs, strict=True):
        rows.append({"t": t, "v": v, "s": name})


def add_cols(table, name):
    for t, vals in table.items():
        for v in vals:
            rows.append({"t": t, "v": v, "s": name})


add_points(DIP_T1, DIP_V1, SERIES[0])
for tbl in (DME1_A, DME1_A_ODD, DME1_B, DME1_B_ODD, DME1_C):
    add_cols(tbl, SERIES[0])
add_points(ARC_T, ARC1_UP, SERIES[0])
add_points(ARC_T, ARC1_LO, SERIES[0])
add_points(ARC_T2, ARC1_UP_EDGE, SERIES[0])
add_points(ARC_T2, ARC1_LO_EDGE, SERIES[0])
add_points(EXTRA_T1, EXTRA_V1, SERIES[0])
add_points(SPIKE_T1, SPIKE_V1, SERIES[0])

add_points(DIP_T2, DIP_V2, SERIES[1])
for tbl in (DME2_A, DME2_A_ODD, DME2_B, DME2_B_ODD, DME2_C):
    add_cols(tbl, SERIES[1])
add_points(ARC_T, ARC2_UP, SERIES[1])
add_points(ARC_T, ARC2_LO, SERIES[1])
add_points(EXTRA_T2, EXTRA_V2, SERIES[1])
add_points(SPIKE_T2, SPIKE_V2, SERIES[1])

df = pd.DataFrame(rows)

W, H = 970, 402
AXIS_COLOR = "#262626"
GRID_COLOR = "#E3E3E3"
ASTERISK = "M-1,0L1,0M0,-1L0,1M-0.7,-0.7L0.7,0.7M-0.7,0.7L0.7,-0.7"

x_scale = alt.Scale(domain=X_DOMAIN, nice=False, zero=False)
y_scale = alt.Scale(domain=Y_DOMAIN, nice=False, zero=False)

points = alt.Chart(df).mark_point(filled=False, strokeWidth=1, clip=True, opacity=1).encode(
    x=alt.X("t:Q", scale=x_scale, axis=alt.Axis(
        values=X_TICKS, title="Time [s]", grid=True, ticks=False, labelPadding=11,
        labelFont="Liberation Sans", labelFontSize=21, labelColor=AXIS_COLOR,
        titleFont="Liberation Serif", titleFontSize=26, titleFontWeight="normal",
        titleColor="black", titlePadding=8, domainColor=AXIS_COLOR, gridColor=GRID_COLOR,
        labelExpr="'' + datum.value")),
    y=alt.Y("v:Q", scale=y_scale, axis=alt.Axis(
        values=Y_TICKS, title="DIST error [m]", grid=True, ticks=False, labelPadding=8,
        labelFont="Liberation Sans", labelFontSize=21, labelColor=AXIS_COLOR,
        titleFont="Liberation Serif", titleFontSize=26, titleFontWeight="normal",
        titleColor="black", titlePadding=10, domainColor=AXIS_COLOR, gridColor=GRID_COLOR,
        labelExpr="'' + datum.value")),
    color=alt.Color("s:N", scale=alt.Scale(domain=SERIES, range=COLORS), legend=alt.Legend(
        title=None, orient="none", legendX=574, legendY=6, padding=5, symbolOffset=4,
        labelOffset=12, rowPadding=4, labelFont="Liberation Serif", labelFontSize=21,
        labelColor="black", strokeColor=AXIS_COLOR, fillColor="white", symbolStrokeWidth=1,
        symbolSize=45, cornerRadius=0)),
    shape=alt.Shape("s:N", scale=alt.Scale(domain=SERIES, range=[ASTERISK, "circle"])),
    size=alt.Size("s:N", scale=alt.Scale(domain=SERIES, range=[45, 44]), legend=None),
)

xt = pd.DataFrame({"t": X_TICKS})
yt = pd.DataFrame({"v": Y_TICKS})
tick_style = dict(color=AXIS_COLOR, strokeWidth=1)
xb = alt.Chart(xt).mark_rule(**tick_style).encode(x=alt.X("t:Q", scale=x_scale), y=alt.value(H), y2=alt.value(H - 10))
xtp = alt.Chart(xt).mark_rule(**tick_style).encode(x=alt.X("t:Q", scale=x_scale), y=alt.value(0), y2=alt.value(10))
yl = alt.Chart(yt).mark_rule(**tick_style).encode(y=alt.Y("v:Q", scale=y_scale), x=alt.value(0), x2=alt.value(10))
yr = alt.Chart(yt).mark_rule(**tick_style).encode(y=alt.Y("v:Q", scale=y_scale), x=alt.value(W - 7), x2=alt.value(W))
top = alt.Chart(xt).mark_rule(**tick_style).encode(x=alt.value(0), x2=alt.value(W), y=alt.value(0))

chart = alt.layer(points, xb, xtp, yl, yr, top).properties(
    width=W, height=H,
    title=alt.TitleParams(TITLE, font="Liberation Serif", fontSize=27.5, fontWeight="normal",
                          color="black", anchor="middle", dx=-24, offset=13),
    autosize=alt.AutoSizeParams(type="none"),
    padding={"left": 89, "top": 54, "right": 0, "bottom": 73},
).configure_view(stroke=None).configure(background="white")

chart.save("out.html", embed_options={"renderer": "svg", "actions": False})
